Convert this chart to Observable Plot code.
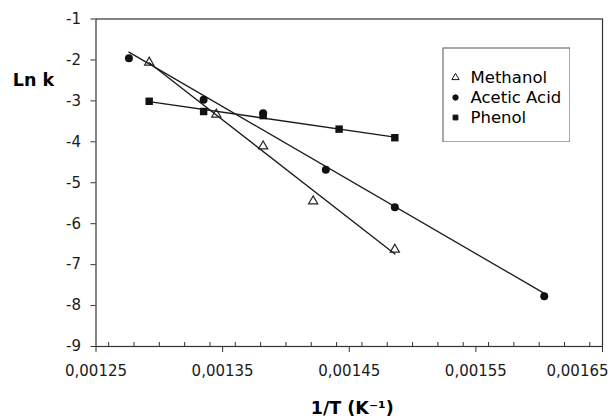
<!DOCTYPE html>
<html>
<head>
<meta charset="utf-8">
<script src="https://cdn.jsdelivr.net/npm/d3@7"></script>
<script src="https://cdn.jsdelivr.net/npm/@observablehq/plot@0.6"></script>
<style>
  body { margin: 0; background: white; }
  #wrap { position: relative; width: 611px; height: 420px; }
  #legend { position: absolute; left: 442px; top: 47px; }
</style>
</head>
<body>
<div id="wrap"><div id="chart"></div><div id="legend"></div></div>
<script>
// Data
const seriesNames = ["Methanol", "Acetic Acid", "Phenol"];
const methanolX = [0.001292, 0.001345, 0.001382, 0.0014215, 0.001486];
const methanolY = [-2.06, -3.33, -4.11, -5.45, -6.63];
const aceticX = [0.001276, 0.001335, 0.001382, 0.0014315, 0.001486, 0.001604];
const aceticY = [-1.96, -2.97, -3.30, -4.68, -5.60, -7.77];
const phenolX = [0.001292, 0.001335, 0.001382, 0.001442, 0.001486];
const phenolY = [-3.01, -3.26, -3.36, -3.69, -3.90];
const xTicks = [0.00125, 0.00135, 0.00145, 0.00155, 0.00165];
const yTicks = [-1, -2, -3, -4, -5, -6, -7, -8, -9];
const xLabel = "1/T (K\u207B\u00B9)";
const yLabel = "Ln k";

const toRows = (xs, ys) => xs.map((x, i) => ({x, y: ys[i]}));
const methanol = toRows(methanolX, methanolY);
const acetic = toRows(aceticX, aceticY);
const phenol = toRows(phenolX, phenolY);
const minorTicks = d3.ticks(0.00125, 0.00165, 20);

const W = 611, H = 420, mL = 95.5, mR = 9, mT = 18.5, mB = 74;
const innerH = H - mT - mB;
const ink = "#1a1a1a";
const fmt = d => d3.format(".5f")(d).replace(".", ",");

const chart = Plot.plot({
  width: W, height: H,
  marginLeft: mL, marginRight: mR, marginTop: mT, marginBottom: mB,
  style: {fontFamily: "DejaVu Sans", fontSize: "15px", color: ink, background: "white"},
  x: {domain: [0.00125, 0.00165]},
  y: {domain: [-9, -1]},
  marks: [
    Plot.frame({stroke: "#333", strokeWidth: 1.2}),
    Plot.tickX(minorTicks, {x: d => d, insetTop: innerH - 4, stroke: "#333"}),
    Plot.axisX({ticks: xTicks, tickSize: 6, tickFormat: () => "", label: null, stroke: "#333"}),
    Plot.axisX({ticks: xTicks.slice(0, -1), tickSize: 0, tickPadding: 19, tickFormat: fmt, label: null}),
    Plot.axisX({ticks: xTicks.slice(-1), tickSize: 0, tickPadding: 19, tickFormat: fmt, label: null, dx: -25}),
    Plot.axisY({ticks: yTicks, tickSize: 5, tickPadding: 10, tickFormat: d => String(d).replace("\u2212", "-"), label: null, stroke: "#333"}),
    Plot.linearRegressionY(methanol, {x: "x", y: "y", ci: 0, stroke: ink, strokeWidth: 1.3}),
    Plot.linearRegressionY(acetic, {x: "x", y: "y", ci: 0, stroke: ink, strokeWidth: 1.3}),
    Plot.linearRegressionY(phenol, {x: "x", y: "y", ci: 0, stroke: ink, strokeWidth: 1.3}),
    Plot.dot(methanol, {x: "x", y: "y", symbol: "triangle", r: 3.4, stroke: "#222", fill: "none", strokeWidth: 1.2}),
    Plot.dot(acetic, {x: "x", y: "y", symbol: "circle", r: 4, fill: "#111", stroke: "none"}),
    Plot.dot(phenol, {x: "x", y: "y", symbol: "square", r: 4.2, fill: "#111", stroke: "none"}),
    Plot.text([yLabel], {text: d => d, frameAnchor: "top-left", textAnchor: "middle", lineAnchor: "middle", dx: -62.5, dy: 61.5, fontWeight: "bold", fontSize: 17.5, fill: "#000"}),
    Plot.text([xLabel], {text: d => d, frameAnchor: "bottom", textAnchor: "middle", lineAnchor: "middle", dx: 3, dy: 62, fontWeight: "bold", fontSize: 17.5, fill: "#000"})
  ]
});
document.getElementById("chart").appendChild(chart);

const seriesSymbols = ["triangle", "circle", "square"];
const seriesFill = ["none", "#111", "#111"];
const legend = Plot.plot({
  width: 128, height: 95, margin: 0,
  style: {fontFamily: "DejaVu Sans", fontSize: "16.5px", color: ink, background: "white"},
  x: {axis: null},
  y: {type: "point", domain: seriesNames, range: [18.5, 81], axis: null},
  symbol: {domain: seriesNames, range: seriesSymbols},
  marks: [
    Plot.frame({stroke: "#555", inset: 0.5}),
    Plot.dot(seriesNames, {y: d => d, symbol: d => d, frameAnchor: "left", dx: 13, r: 2.7,
      fill: d => seriesFill[seriesNames.indexOf(d)], stroke: "#111", strokeWidth: 1}),
    Plot.text(seriesNames, {y: d => d, text: d => d, frameAnchor: "left", dx: 28, textAnchor: "start", fill: "#000"})
  ]
});
document.getElementById("legend").appendChild(legend);
</script>
</body>
</html>
